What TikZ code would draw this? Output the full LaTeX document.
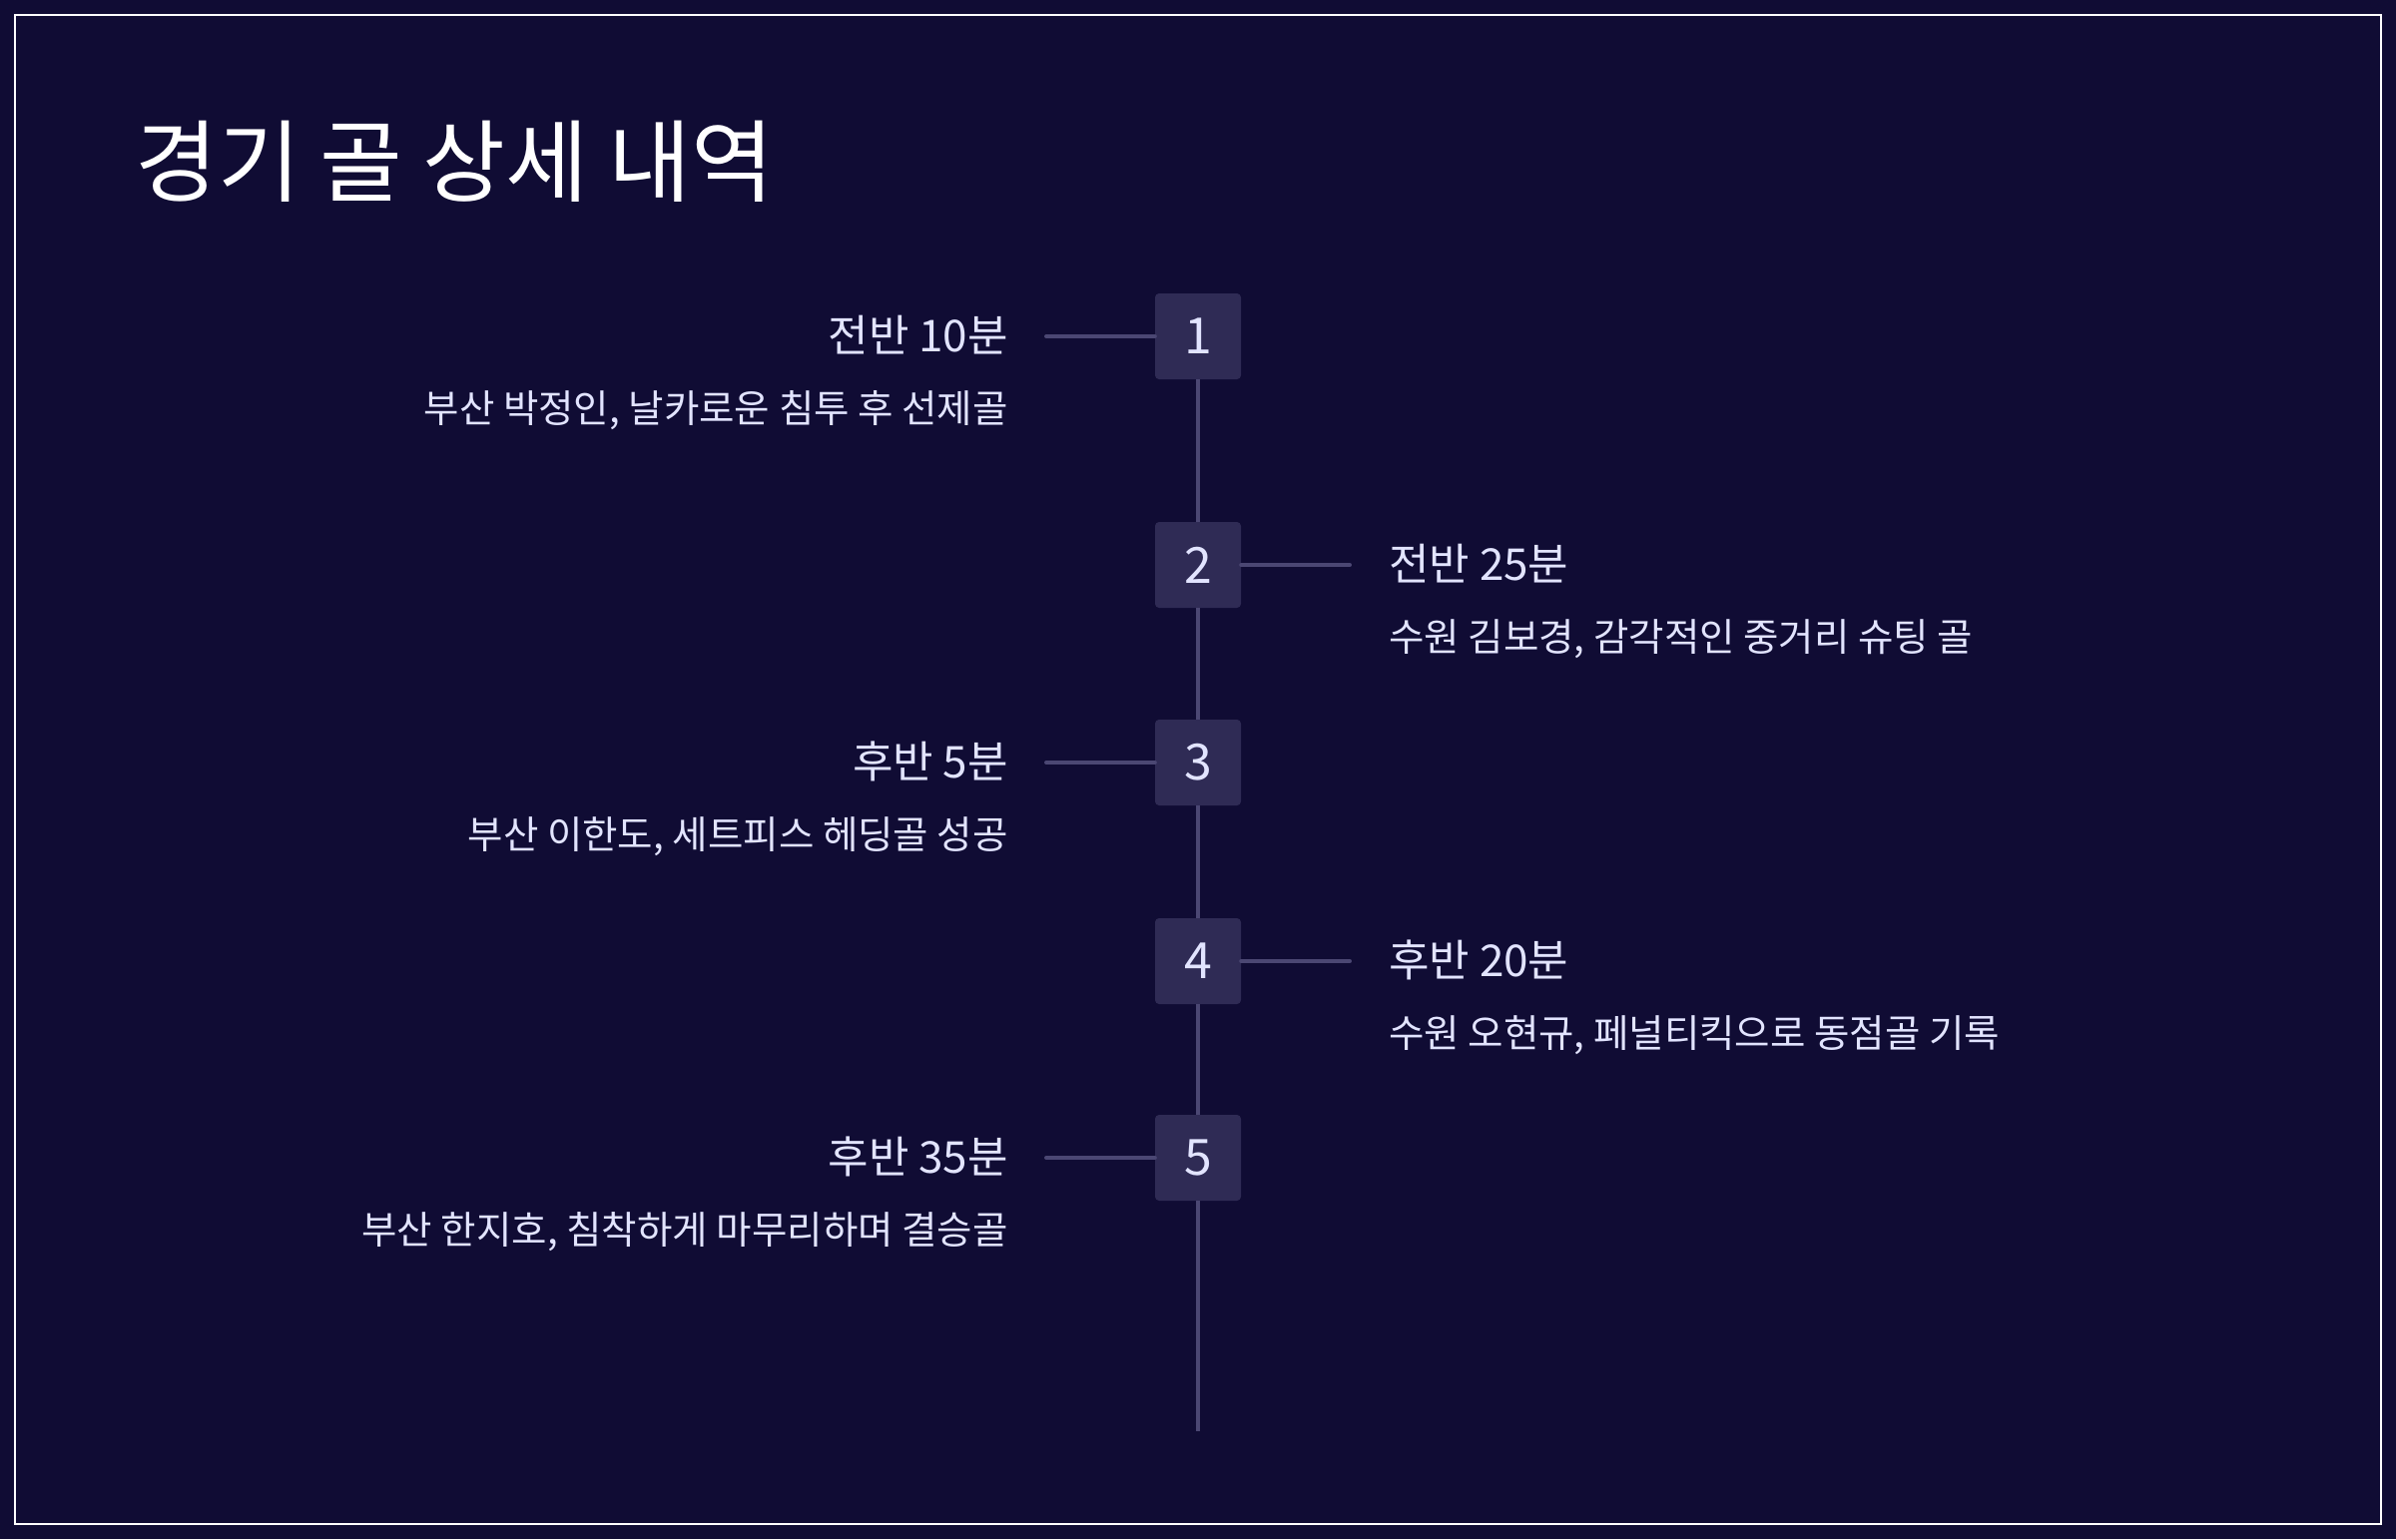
\documentclass[tikz,border=0pt]{standalone}
\usepackage{fontspec}
\setmainfont{Noto Sans CJK KR}
\definecolor{bgc}{HTML}{100C34}
\definecolor{boxc}{HTML}{2F2B55}
\definecolor{linec}{HTML}{4B4773}
\definecolor{txtc}{HTML}{E2E4FF}
\tikzset{
  numbox/.style={fill=boxc, rounded corners=4pt, minimum width=86pt, minimum height=86pt, inner sep=0pt, text=txtc, font=\fontsize{50}{56}\selectfont},
  tline/.style={draw=linec, line width=3.5pt},
  conn/.style={draw=linec, line width=4pt, line cap=round},
  headl/.style={anchor=base east, inner sep=0pt, text=txtc, font=\fontsize{44}{50}\selectfont},
  headr/.style={anchor=base west, inner sep=0pt, text=txtc, font=\fontsize{44}{50}\selectfont},
  descl/.style={anchor=base east, inner sep=0pt, text=txtc, font=\fontsize{38.5}{44}\selectfont},
  descr/.style={anchor=base west, inner sep=0pt, text=txtc, font=\fontsize{38.5}{44}\selectfont},
}
\begin{document}
\begin{tikzpicture}[x=1pt,y=-1pt]
\useasboundingbox (0,0) rectangle (2400,1542);
\fill[bgc] (0,0) rectangle (2400,1542);
\draw[white, line width=2pt] (15,15) rectangle (2385,1527);
\node[anchor=base west, inner sep=0pt, text=white, font=\fontsize{90}{100}\selectfont] (title) at (135,195) {경기 골 상세 내역};
% timeline ends
\coordinate (end) at (1200,1434);
% boxes
\node[numbox] (b1) at (1200,337) {1};
\node[numbox] (b2) at (1200,566) {2};
\node[numbox] (b3) at (1200,764) {3};
\node[numbox] (b4) at (1200,963) {4};
\node[numbox] (b5) at (1200,1160) {5};
% timeline segments
\draw[tline] (b1.south) -- (b2.north);
\draw[tline] (b2.south) -- (b3.north);
\draw[tline] (b3.south) -- (b4.north);
\draw[tline] (b4.south) -- (b5.north);
\draw[tline] (b5.south) -- (end);
% connector ends
\coordinate (c1) at (1048,337);
\coordinate (c2) at (1352,566);
\coordinate (c3) at (1048,764);
\coordinate (c4) at (1352,963);
\coordinate (c5) at (1048,1160);
\draw[conn] (b1.west) -- (c1);
\draw[conn] (b2.east) -- (c2);
\draw[conn] (b3.west) -- (c3);
\draw[conn] (b4.east) -- (c4);
\draw[conn] (b5.west) -- (c5);
% texts
\node[headl] (h1) at (1010,352) {전반 10분};
\node[descl] (d1) at (1010,423) {부산 박정인, 날카로운 침투 후 선제골};
\node[headr] (h2) at (1391,581) {전반 25분};
\node[descr] (d2) at (1391,652) {수원 김보경, 감각적인 중거리 슈팅 골};
\node[headl] (h3) at (1010,779) {후반 5분};
\node[descl] (d3) at (1010,850) {부산 이한도, 세트피스 헤딩골 성공};
\node[headr] (h4) at (1391,978) {후반 20분};
\node[descr] (d4) at (1391,1049) {수원 오현규, 페널티킥으로 동점골 기록};
\node[headl] (h5) at (1010,1175) {후반 35분};
\node[descl] (d5) at (1010,1246) {부산 한지호, 침착하게 마무리하며 결승골};
\end{tikzpicture}
\end{document}
